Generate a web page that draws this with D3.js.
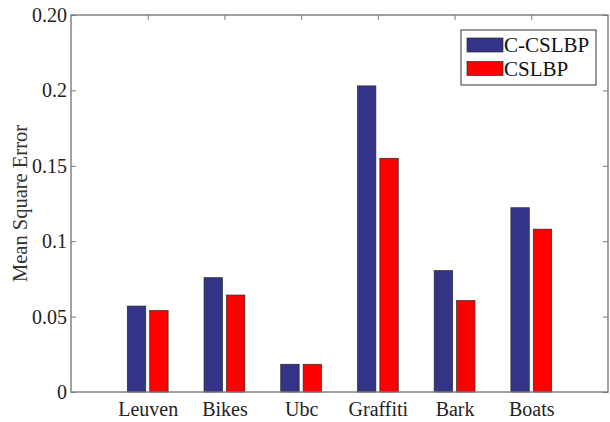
<!DOCTYPE html>
<html>
<head>
<meta charset="utf-8">
<script src="https://cdn.jsdelivr.net/npm/d3@7"></script>
<style>
  html, body { margin: 0; padding: 0; background: #fff; }
  svg { display: block; font-family: "Liberation Serif", "Times New Roman", serif; }
</style>
</head>
<body>
<svg id="chart" width="610" height="422"></svg>
<script>
// Datasets and per-method mean square error
const categories = ["Leuven", "Bikes", "Ubc", "Graffiti", "Bark", "Boats"];
const seriesNames = ["C-CSLBP", "CSLBP"];
const ccslbp = [0.057, 0.0758, 0.0184, 0.203, 0.0805, 0.1222];
const cslbp  = [0.054, 0.0643, 0.0184, 0.155, 0.0606, 0.108];
const seriesColors = ["#333388", "#ff0000"];
// y tick positions and their printed labels
const yTickValues = [0, 0.05, 0.1, 0.15, 0.2, 0.25];
const yTickLabels = ["0", "0.05", "0.1", "0.15", "0.2", "0.20"];

(function () {
  const series = [ccslbp, cslbp];

  const svg = d3.select("#chart");
  const plotL = 71, plotR = 608, plotT = 15, plotB = 392;

  // categories sit at 1..n on a numeric axis running 0..n+1
  const x = d3.scaleLinear().domain([0, categories.length + 1]).range([plotL, plotR]);
  const y = d3.scaleLinear().domain([0, 0.25]).range([plotB, plotT]);

  const barW = 0.24;
  const offsets = [-0.146, 0.146];
  const unit = x(1) - x(0);

  // bars
  series.forEach((vals, s) => {
    svg.append("g")
      .selectAll("rect")
      .data(vals)
      .join("rect")
      .attr("x", (d, i) => x(i + 1 + offsets[s]) - barW * unit / 2)
      .attr("width", barW * unit)
      .attr("y", d => y(d))
      .attr("height", d => y(0) - y(d))
      .attr("fill", seriesColors[s])
      .attr("stroke", "#2a2a2a")
      .attr("stroke-width", 0.7);
  });

  const axisColor = "#7a7a7a";
  const tickLen = 5;
  const serif = "'Liberation Serif', 'Times New Roman', serif";

  // left axis, ticks pointing inward
  const yAxis = d3.axisRight(y)
    .tickValues(yTickValues)
    .tickFormat((d, i) => yTickLabels[i])
    .tickSize(tickLen);
  const gy = svg.append("g").attr("transform", `translate(${plotL},0)`).call(yAxis);
  gy.select(".domain").remove();
  gy.selectAll(".tick line").attr("stroke", axisColor).attr("stroke-width", 1);
  gy.selectAll(".tick text")
    .attr("text-anchor", "end")
    .attr("x", -4)
    .attr("fill", "#222")
    .style("font-size", "20px")
    .style("font-family", serif);

  // right axis mirror ticks
  const yAxisR = d3.axisLeft(y).tickValues(yTickValues).tickSize(tickLen).tickFormat("");
  const gyr = svg.append("g").attr("transform", `translate(${plotR},0)`).call(yAxisR);
  gyr.select(".domain").remove();
  gyr.selectAll(".tick line").attr("stroke", axisColor).attr("stroke-width", 1);

  // top mirror ticks at category positions
  const catTicks = categories.map((c, i) => i + 1);
  const xAxisTop = d3.axisBottom(x).tickValues(catTicks).tickSize(tickLen).tickFormat("");
  const gxt = svg.append("g").attr("transform", `translate(0,${plotT})`).call(xAxisTop);
  gxt.select(".domain").remove();
  gxt.selectAll(".tick line").attr("stroke", axisColor).attr("stroke-width", 1);

  // bottom category labels
  const xAxis = d3.axisBottom(x)
    .tickValues(catTicks)
    .tickFormat((d, i) => categories[i])
    .tickSize(0)
    .tickPadding(10);
  const gx = svg.append("g").attr("transform", `translate(0,${plotB})`).call(xAxis);
  gx.select(".domain").remove();
  gx.selectAll(".tick text")
    .attr("fill", "#222")
    .style("font-size", "20px")
    .style("font-family", serif);

  // plot frame
  svg.append("rect")
    .attr("x", plotL).attr("y", plotT)
    .attr("width", plotR - plotL).attr("height", plotB - plotT)
    .attr("fill", "none")
    .attr("stroke", axisColor)
    .attr("stroke-width", 1.4);

  // y axis title
  svg.append("text")
    .attr("transform", `translate(27,${(122 + 285) / 2}) rotate(-90)`)
    .attr("text-anchor", "middle")
    .attr("fill", "#333")
    .style("font-size", "20.5px")
    .text("Mean Square Error");

  // legend
  const lg = svg.append("g");
  lg.append("rect")
    .attr("x", 461).attr("y", 30).attr("width", 135).attr("height", 55)
    .attr("fill", "#fff").attr("stroke", "#333").attr("stroke-width", 1);
  seriesNames.forEach((name, s) => {
    const yy = 38 + s * 23.5;
    lg.append("rect")
      .attr("x", 467).attr("y", yy).attr("width", 36).attr("height", 14)
      .attr("fill", seriesColors[s]).attr("stroke", "#2a2a2a").attr("stroke-width", 0.7);
    lg.append("text")
      .attr("x", 504).attr("y", yy + 14)
      .attr("fill", "#111")
      .style("font-size", "21px")
      .text(name);
  });
})();
</script>
</body>
</html>
